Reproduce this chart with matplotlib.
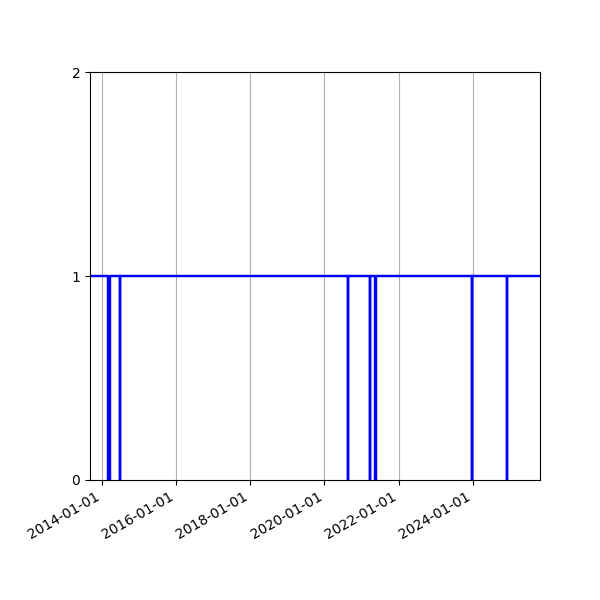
import matplotlib
matplotlib.use("Agg")
import matplotlib.pyplot as plt
import matplotlib.dates as mdates
import pandas as pd

# change points of the status series (value holds until the next date)
dates = ["2013-09-04", "2014-02-26", "2014-03-24", "2014-06-23", "2014-06-24",
         "2020-08-19", "2020-08-20", "2021-03-27", "2021-03-28",
         "2021-05-18", "2021-05-19", "2023-12-27", "2023-12-28",
         "2024-12-08", "2024-12-09", "2025-10-26"]
values = [1, 0, 1, 0, 1,
          0, 1, 0, 1,
          0, 1, 0, 1,
          0, 1, 1]
yticks = [0, 1, 2]

x = pd.to_datetime(dates)

fig, ax = plt.subplots(figsize=(6, 6), dpi=100)
ax.step(x, values, where="post", color="blue", linewidth=1.75)

ax.set_xlim(x[0], x[-1])
ax.set_ylim(0, 2)
ax.set_yticks(yticks)
ax.xaxis.set_major_locator(mdates.YearLocator(2))
ax.xaxis.set_major_formatter(mdates.DateFormatter("%Y-%m-%d"))
ax.grid(axis="x")
fig.autofmt_xdate()
fig.subplots_adjust(left=0.15, right=0.9, top=0.88, bottom=0.2)

fig.savefig("out.png")
